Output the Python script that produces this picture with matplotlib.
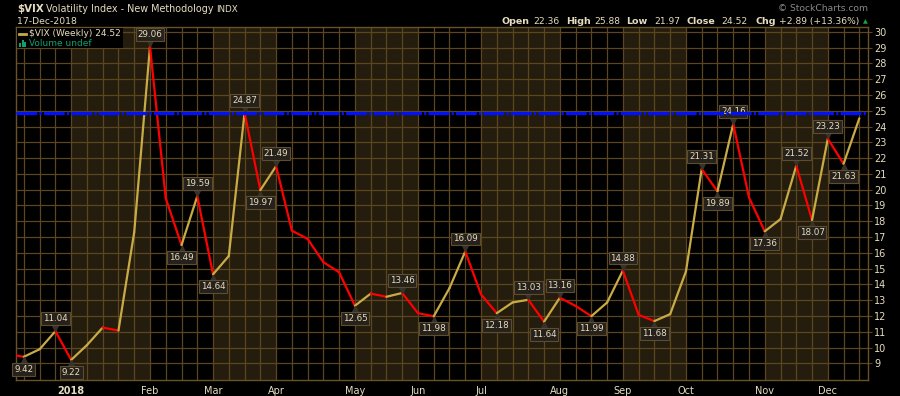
import numpy as np
import matplotlib.pyplot as plt
from matplotlib.lines import Line2D
from matplotlib.patches import Rectangle
from matplotlib.transforms import offset_copy

# weekly closes of $VIX, the first one is the week just left of the chart
closes = [9.58, 9.42, 9.90, 11.04, 9.22, 10.16, 11.27, 11.08, 17.31, 29.06,
          19.46, 16.49, 19.59, 14.64, 15.80, 24.87, 19.97, 21.49, 17.41, 16.88,
          15.41, 14.77, 12.65, 13.42, 13.22, 13.46, 12.18, 11.98, 13.77, 16.09,
          13.37, 12.18, 12.86, 13.03, 11.64, 13.16, 12.64, 11.99, 12.86, 14.88,
          12.07, 11.68, 12.12, 14.82, 21.31, 19.89, 24.16, 19.51, 17.36, 18.14,
          21.52, 18.07, 23.23, 21.63, 24.52]
weeks = np.arange(len(closes)) - 1

month_start = [3, 8, 12, 16, 21, 25, 29, 34, 38, 42, 47, 51]
month_names = ['2018', 'Feb', 'Mar', 'Apr', 'May', 'Jun', 'Jul', 'Aug', 'Sep',
               'Oct', 'Nov', 'Dec']
shaded = [0, 2, 4, 6, 8, 10]  # Jan, Mar, May, Jul, Sep, Nov

peaks = [2, 8, 11, 14, 16, 24, 28, 32, 34, 38, 43, 45, 49, 51]
troughs = [0, 3, 10, 12, 15, 21, 26, 30, 33, 36, 40, 44, 47, 50, 52]

level = 24.87
header = {'Open': '22.36', 'High': '25.88', 'Low': '21.97', 'Close': '24.52',
          'Chg': '+2.89 (+13.36%)'}

cream = '#e6dcc0'
gold = '#c9ab45'
grid_c = '#5c4620'
W, H = 900, 396


def fx(px):
    return px / W


def fy(py):
    return 1 - py / H


fig = plt.figure(figsize=(9, 3.96), dpi=100, facecolor='black')
ax = fig.add_axes([fx(16), fy(380), fx(868 - 16), (380 - 27) / H])
ax.set_facecolor('black')
ax.set_xlim(-0.5, 53.55)
ax.set_ylim(7.95, 30.3)

# month bands
for m in shaded:
    ax.axvspan(month_start[m], month_start[m + 1], color='#241c0d', lw=0, zorder=0)

ax.set_xticks(np.arange(0, 54), minor=True)
ax.set_yticks(np.arange(9, 31))
ax.grid(True, which='both', color=grid_c, lw=0.9, zorder=1)
ax.set_axisbelow(True)
for s in ax.spines.values():
    s.set_color('#6a5228')
    s.set_linewidth(1)

ax.yaxis.tick_right()
ax.tick_params(axis='y', colors=cream, labelsize=7, length=3, width=0.8, pad=1.5)
ax.tick_params(axis='y', color=grid_c)
ax.set_xticks(month_start)
ax.set_xticklabels(month_names)
ax.tick_params(axis='x', which='both', length=0, pad=4, labelsize=7, labelcolor=cream)
ax.get_xticklabels()[0].set_fontweight('bold')

# price line, red where it falls, gold where it rises
for i in range(1, len(closes)):
    c = 'red' if closes[i] < closes[i - 1] else gold
    ax.plot(weeks[i - 1:i + 1], closes[i - 1:i + 1], color=c, lw=1.6,
            zorder=3, solid_capstyle='round', clip_on=True)

# value tags
for idx, up in [(p, True) for p in peaks] + [(t, False) for t in troughs]:
    v = closes[idx + 1]
    sign = 1 if up else -1
    tri = offset_copy(ax.transData, fig=fig, x=0, y=sign * 3.2, units='points')
    ax.plot(idx, v, marker='v' if up else '^', ms=6, color='#38332a',
            mec='#38332a', transform=tri, zorder=4)
    ax.annotate(f'{v:.2f}', (idx, v), xytext=(0, sign * 9), textcoords='offset points',
                ha='center', va='center', fontsize=6.3, color=cream, zorder=5,
                bbox=dict(boxstyle='square,pad=0.22', fc='#26221b', ec='#5c4c30', lw=0.8))

ax.axhline(level, color='#0010ff', lw=2.3, dashes=(6.5, 0.7, 0.7, 0.7), zorder=6)

# header texts
fig.text(fx(17), fy(9), '$VIX', color=cream, fontsize=7.4, fontweight='bold', va='center')
fig.text(fx(46), fy(9), 'Volatility Index - New Methodology', color=cream,
         fontsize=6.9, va='center')
fig.text(fx(216), fy(9), 'INDX', color=cream, fontsize=6.3, va='center')
fig.text(fx(17), fy(21.5), '17-Dec-2018', color=cream, fontsize=6.7, va='center')
fig.text(fx(868), fy(8.5), '\u00a9 StockCharts.com', color='#8a8a8a', fontsize=6.6,
         ha='right', va='center')

xs = [(501.5, 533), (566.5, 594), (626.5, 654), (686.5, 721.5), (755, 779)]
for (k, val), (xl, xv) in zip(header.items(), xs):
    fig.text(fx(xl), fy(21.5), k, color=cream, fontsize=6.8, fontweight='bold', va='center')
    fig.text(fx(xv), fy(21.5), val, color=cream, fontsize=6.6, va='center')
fig.text(fx(865), fy(21.5), '\u25b2', color='#19a83a', fontsize=4.5, ha='center', va='center')

# legend
fig.patches.append(Rectangle((fx(17), fy(48)), fx(106), 20 / H, transform=fig.transFigure,
                             fc='black', ec='none', zorder=7))
fig.lines.append(Line2D([fx(19), fx(26)], [fy(33.5), fy(33.5)], transform=fig.transFigure,
                        color=gold, lw=2, zorder=8))
fig.text(fx(29), fy(33.5), '$VIX (Weekly) 24.52', color=cream, fontsize=6.5,
         va='center', zorder=8)
for j, hgt in enumerate([4, 7, 5]):
    fig.patches.append(Rectangle((fx(19 + j * 2.6), fy(47)), fx(2), hgt / H,
                                 transform=fig.transFigure, fc='#10a070', ec='none', zorder=8))
fig.text(fx(29), fy(43), 'Volume undef', color='#10a070', fontsize=6.5, va='center', zorder=8)

fig.savefig('out.png', dpi=100, facecolor='black')
